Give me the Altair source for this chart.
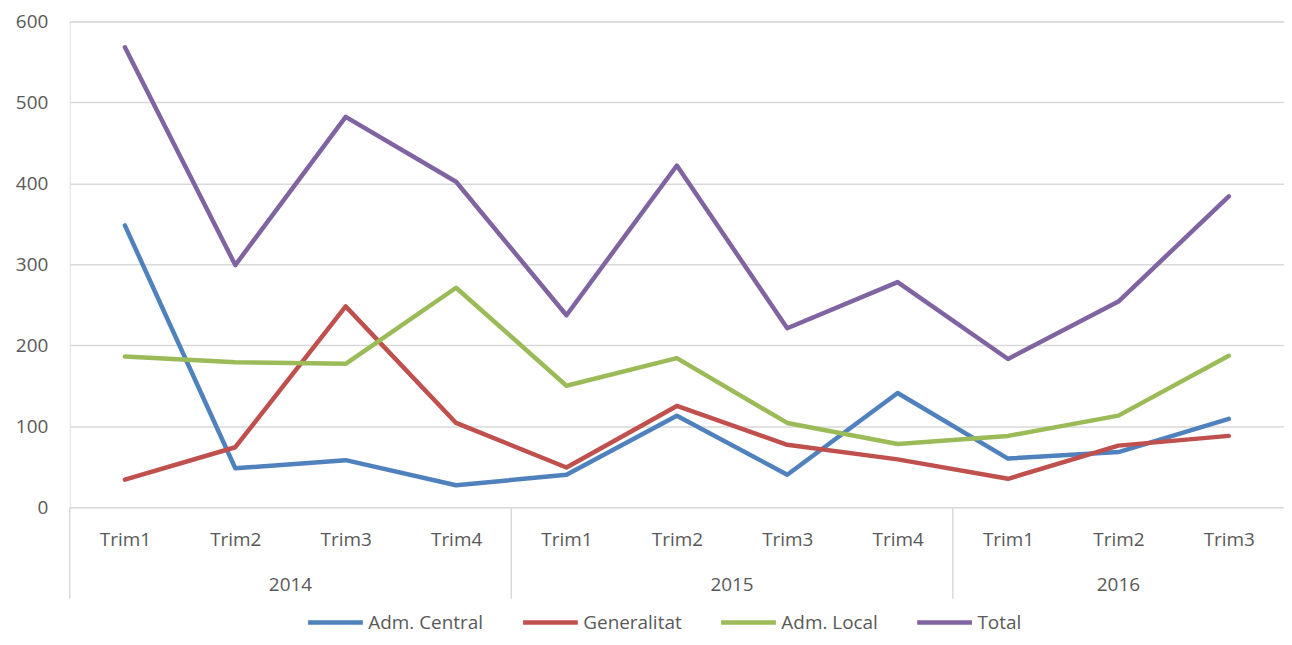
import json
import altair as alt
import pandas as pd

years = ["2014", "2014", "2014", "2014", "2015", "2015", "2015", "2015", "2016", "2016", "2016"]
quarters = ["Trim1", "Trim2", "Trim3", "Trim4", "Trim1", "Trim2", "Trim3", "Trim4", "Trim1", "Trim2", "Trim3"]

series_names = ["Adm. Central", "Generalitat", "Adm. Local", "Total"]
adm_central = [348, 48, 58, 27, 40, 113, 40, 141, 60, 68, 109]
generalitat = [34, 74, 248, 104, 49, 125, 77, 59, 35, 76, 88]
adm_local = [186, 179, 177, 271, 150, 184, 104, 78, 88, 113, 187]
total = [568, 299, 482, 402, 237, 422, 221, 278, 183, 254, 384]
colors = ["#4F81BD", "#C0504D", "#9BBB59", "#8064A2"]

FONT = "Open Sans"
FS = 19
GREY = "#595959"
GRID = "#D9D9D9"
W, H = 1220, 488

rows = []
for name, vals in zip(series_names, [adm_central, generalitat, adm_local, total]):
    for i, v in enumerate(vals):
        rows.append({"idx": i, "year": years[i], "quarter": quarters[i], "series": name, "value": v})
df = pd.DataFrame(rows)

qdf = pd.DataFrame({"idx": list(range(len(years))), "year": years})
year_df = qdf.groupby("year", as_index=False)["idx"].agg(["min", "max"]).reset_index()
year_df["center"] = (year_df["min"] + year_df["max"]) / 2
year_df["boundary"] = year_df["min"] - 0.5

x_scale = alt.Scale(domain=[-0.5, len(years) - 0.5], nice=False, zero=False)
label_expr = json.dumps(quarters) + "[datum.value]"

lines = alt.Chart(df).mark_line(strokeWidth=4.5, strokeCap="round", strokeJoin="round").encode(
    x=alt.X("idx:Q", scale=x_scale, title=None,
            axis=alt.Axis(values=list(range(len(years))), labelExpr=label_expr, grid=False,
                          ticks=False, domain=False, labelPadding=24, labelFontSize=FS,
                          labelColor=GREY, labelFont=FONT)),
    y=alt.Y("value:Q", scale=alt.Scale(domain=[0, 600], nice=False), title=None,
            axis=alt.Axis(values=[0, 100, 200, 300, 400, 500, 600], grid=True, gridColor=GRID,
                          gridWidth=1.5, ticks=False, domain=False, labelPadding=22,
                          labelFontSize=FS, labelColor=GREY, labelFont=FONT)),
    color=alt.Color("series:N", scale=alt.Scale(domain=series_names, range=colors),
                    sort=series_names,
                    legend=alt.Legend(orient="none", legendX=237, legendY=574, direction="horizontal",
                                      title=None, symbolType="stroke", symbolSize=3025,
                                      symbolStrokeWidth=4.5, labelFontSize=FS, labelFont=FONT,
                                      labelColor=GREY, columnPadding=30, labelOffset=3,
                                      labelLimit=400, padding=0)),
    order="idx:Q",
    detail="series:N",
)

seps = alt.Chart(year_df).mark_rule(color=GRID, strokeWidth=1.5).encode(
    x=alt.X("boundary:Q", scale=x_scale),
    y=alt.value(H),
    y2=alt.value(H + 92),
)

year_text = alt.Chart(year_df).mark_text(fontSize=FS, font=FONT, color=GREY, baseline="middle").encode(
    x=alt.X("center:Q", scale=x_scale),
    y=alt.value(H + 78),
    text="year:N",
)

chart = alt.layer(lines, seps, year_text).properties(
    width=W, height=H,
    autosize=alt.AutoSizeParams(type="none"),
    padding={"left": 62, "top": 12, "right": 0, "bottom": 129},
).configure_view(stroke=None).configure(font=FONT)

chart.save("out.html", embed_options={"renderer": "svg", "actions": False})
